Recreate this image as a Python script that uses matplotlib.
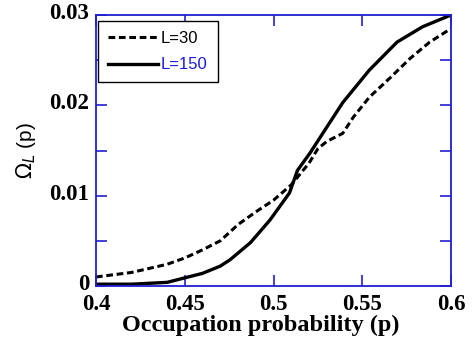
import numpy as np
import matplotlib.pyplot as plt
import matplotlib.transforms as mtransforms
from matplotlib.ticker import MultipleLocator

# values
p_30 = [0.40, 0.42, 0.44, 0.45, 0.46, 0.47, 0.48, 0.49, 0.50, 0.51, 0.515,
        0.52, 0.525, 0.53, 0.539, 0.545, 0.554, 0.566, 0.577, 0.588, 0.60]
omega_30 = [0.0010, 0.0015, 0.0024, 0.0031, 0.0040, 0.0050, 0.0068, 0.0082,
            0.0095, 0.0112, 0.0124, 0.0136, 0.0152, 0.0160, 0.0169, 0.0187,
            0.0209, 0.0231, 0.0252, 0.0270, 0.0285]

p_150 = [0.40, 0.42, 0.44, 0.45, 0.46, 0.47, 0.4755, 0.487, 0.498, 0.509,
         0.5135, 0.5205, 0.539, 0.554, 0.5696, 0.584, 0.60]
omega_150 = [0.0002, 0.0002, 0.0004, 0.0009, 0.0014, 0.0022, 0.0029, 0.0048,
             0.0073, 0.0103, 0.0128, 0.0147, 0.0203, 0.0239, 0.0270, 0.0287,
             0.0300]

x_ticks = [0.4, 0.45, 0.5, 0.55, 0.6]
x_labels = ['0.4', '0.45', '0.5', '0.55', '0.6']
y_ticks = [0, 0.01, 0.02, 0.03]
y_labels = ['0', '0.01', '0.02', '0.03']

fig = plt.figure(figsize=(4.73, 3.45), dpi=100)
ax = fig.add_axes([96 / 473, 1 - 286 / 345, 355 / 473, 271 / 345])

ax.plot(p_30, omega_30, color='black', lw=2.2, ls=(0, (2.2, 1.2)), label='L=30')
ax.plot(p_150, omega_150, color='black', lw=2.4, label='L=150')

ax.set_xlim(0.4, 0.6)
ax.set_ylim(0, 0.03)
ax.set_xticks(x_ticks)
ax.set_xticklabels(x_labels)
ax.set_yticks(y_ticks)
ax.set_yticklabels(y_labels)
ax.yaxis.set_minor_locator(MultipleLocator(0.005))

for s in ax.spines.values():
    s.set_color('#2020d0')
    s.set_linewidth(1.3)
ax.tick_params(which='both', direction='in', top=True, right=True,
               color='#2020d0', length=8, width=1.2)
ax.tick_params(axis='x', pad=6)
ax.tick_params(axis='y', pad=5)
for lab in ax.get_xticklabels() + ax.get_yticklabels():
    lab.set_family('Liberation Serif')
    lab.set_fontweight('bold')
    lab.set_fontsize(16.5)

# y tick labels sit a little above their ticks in the original
shift_up = mtransforms.ScaledTranslation(0, 4 / 100, fig.dpi_scale_trans)
for lab in ax.get_yticklabels():
    lab.set_transform(lab.get_transform() + shift_up)

ax.set_xlabel('Occupation probability (p)', fontsize=17.5,
              family='Liberation Serif', weight='bold')
ax.xaxis.set_label_coords(0.465, -0.108)
ax.set_ylabel(r'$\Omega_L$ (p)', fontsize=15, family='Liberation Sans', labelpad=8)

leg = ax.legend(loc='upper left', bbox_to_anchor=(0.0, 0.985),
                prop={'family': 'Liberation Sans', 'size': 12},
                frameon=True, fancybox=False, edgecolor='black', framealpha=1,
                handlelength=3.0, borderpad=0.6, labelspacing=0.7,
                handletextpad=0.2, borderaxespad=0.1)
leg.get_frame().set_linewidth(1.0)
leg.get_texts()[1].set_color('#1a1ae0')

plt.savefig('out.png', dpi=100)
